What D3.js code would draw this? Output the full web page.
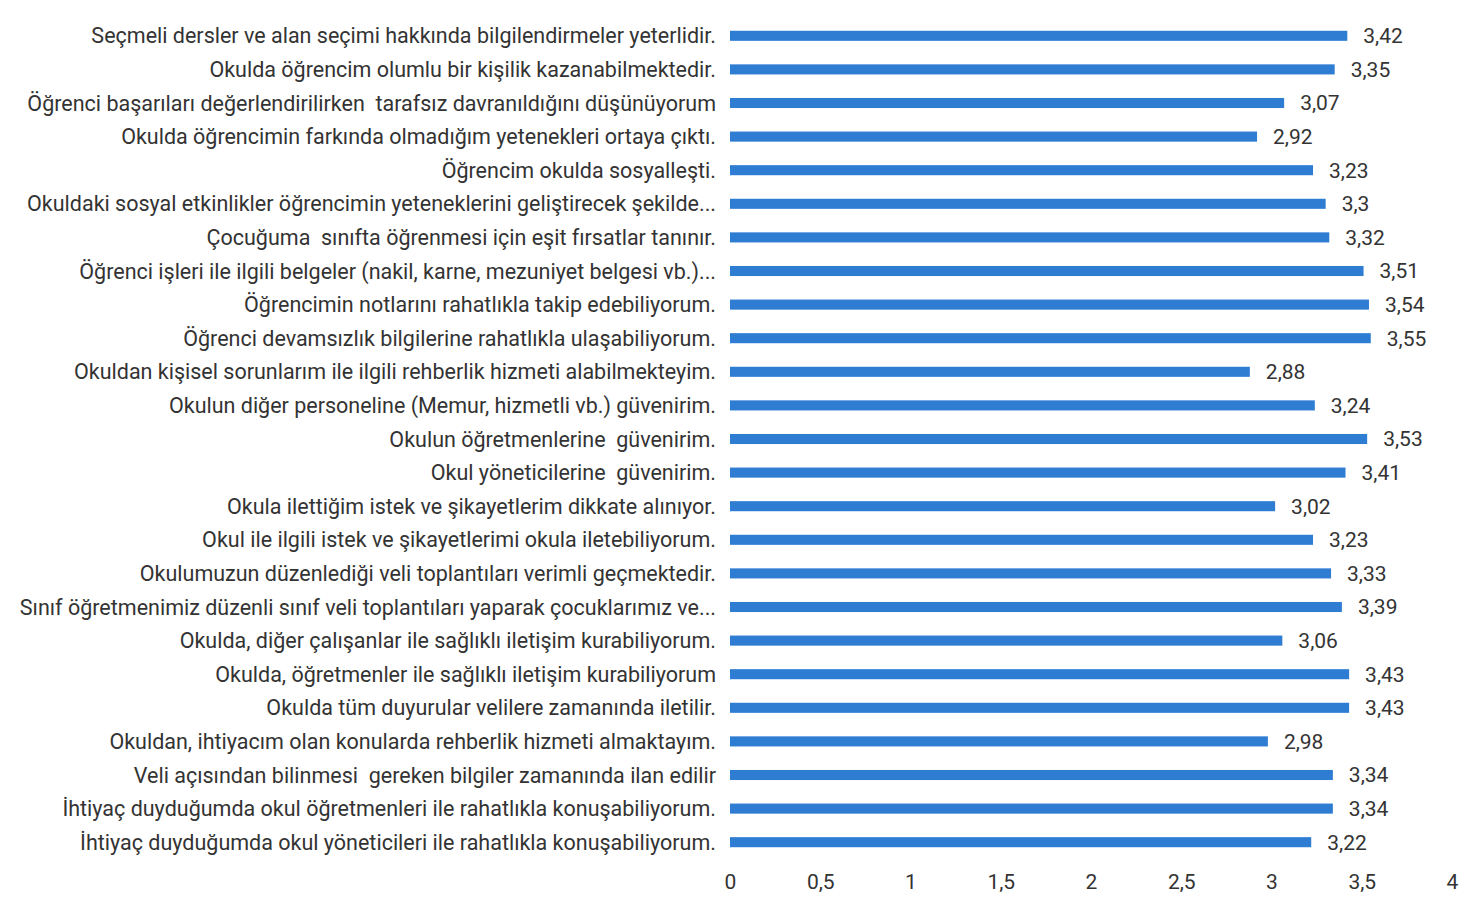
<!DOCTYPE html>
<html>
<head>
<meta charset="utf-8">
<script src="https://cdn.jsdelivr.net/npm/d3@7"></script>
<style>
  body { margin: 0; background: #fff; }
  text { font-family: "Roboto", sans-serif; fill: #333; white-space: pre; }
</style>
</head>
<body>
<div id="root"></div>
<script>
const categories = [
  "Seçmeli dersler ve alan seçimi hakkında bilgilendirmeler yeterlidir.",
  "Okulda öğrencim olumlu bir kişilik kazanabilmektedir.",
  "Öğrenci başarıları değerlendirilirken  tarafsız davranıldığını düşünüyorum",
  "Okulda öğrencimin farkında olmadığım yetenekleri ortaya çıktı.",
  "Öğrencim okulda sosyalleşti.",
  "Okuldaki sosyal etkinlikler öğrencimin yeteneklerini geliştirecek şekilde...",
  "Çocuğuma  sınıfta öğrenmesi için eşit fırsatlar tanınır.",
  "Öğrenci işleri ile ilgili belgeler (nakil, karne, mezuniyet belgesi vb.)...",
  "Öğrencimin notlarını rahatlıkla takip edebiliyorum.",
  "Öğrenci devamsızlık bilgilerine rahatlıkla ulaşabiliyorum.",
  "Okuldan kişisel sorunlarım ile ilgili rehberlik hizmeti alabilmekteyim.",
  "Okulun diğer personeline (Memur, hizmetli vb.) güvenirim.",
  "Okulun öğretmenlerine  güvenirim.",
  "Okul yöneticilerine  güvenirim.",
  "Okula ilettiğim istek ve şikayetlerim dikkate alınıyor.",
  "Okul ile ilgili istek ve şikayetlerimi okula iletebiliyorum.",
  "Okulumuzun düzenlediği veli toplantıları verimli geçmektedir.",
  "Sınıf öğretmenimiz düzenli sınıf veli toplantıları yaparak çocuklarımız ve...",
  "Okulda, diğer çalışanlar ile sağlıklı iletişim kurabiliyorum.",
  "Okulda, öğretmenler ile sağlıklı iletişim kurabiliyorum",
  "Okulda tüm duyurular velilere zamanında iletilir.",
  "Okuldan, ihtiyacım olan konularda rehberlik hizmeti almaktayım.",
  "Veli açısından bilinmesi  gereken bilgiler zamanında ilan edilir",
  "İhtiyaç duyduğumda okul öğretmenleri ile rahatlıkla konuşabiliyorum.",
  "İhtiyaç duyduğumda okul yöneticileri ile rahatlıkla konuşabiliyorum."
];
const values = [3.42, 3.35, 3.07, 2.92, 3.23, 3.3, 3.32, 3.51, 3.54, 3.55, 2.88, 3.24, 3.53,
  3.41, 3.02, 3.23, 3.33, 3.39, 3.06, 3.43, 3.43, 2.98, 3.34, 3.34, 3.22];
const ticks = [0, 0.5, 1, 1.5, 2, 2.5, 3, 3.5, 4];

const w = 1477, h = 903;
const fmt = v => String(v).replace(".", ",");

const svg = d3.select("#root").append("svg")
  .attr("width", w)
  .attr("height", h);

const x = d3.scaleLinear().domain([0, 4]).range([730, 1452]);
const y = d3.scaleBand()
  .domain(categories)
  .range([19, 859])
  .paddingInner(0.7)
  .paddingOuter(0.35);

const data = categories.map((c, i) => ({ cat: c, val: values[i] }));

svg.append("g").selectAll("rect")
  .data(data)
  .enter().append("rect")
  .attr("x", x(0))
  .attr("y", d => y(d.cat))
  .attr("width", d => x(d.val) - x(0))
  .attr("height", y.bandwidth())
  .style("fill", "#2f7dd3");

// category labels
svg.append("g").selectAll("text")
  .data(data)
  .enter().append("text")
  .attr("x", 716)
  .attr("y", d => y(d.cat) + y.bandwidth() / 2)
  .attr("dy", "0.35em")
  .style("text-anchor", "end")
  .style("font-size", "21.5px")
  .text(d => d.cat);

// value labels
svg.append("g").selectAll("text")
  .data(data)
  .enter().append("text")
  .attr("x", d => x(d.val) + 16)
  .attr("y", d => y(d.cat) + y.bandwidth() / 2)
  .attr("dy", "0.35em")
  .style("font-size", "21px")
  .text(d => fmt(d.val));

// x axis tick labels (no axis line in the original)
const axis = d3.axisBottom(x).tickValues(ticks).tickFormat(fmt).tickSize(0).tickPadding(0);
const ax = svg.append("g")
  .attr("transform", "translate(0,874)")
  .call(axis);
ax.select(".domain").remove();
ax.selectAll("text")
  .style("font-size", "21px")
  .style("fill", "#333")
  .style("font-family", "Roboto, sans-serif");
</script>
</body>
</html>
